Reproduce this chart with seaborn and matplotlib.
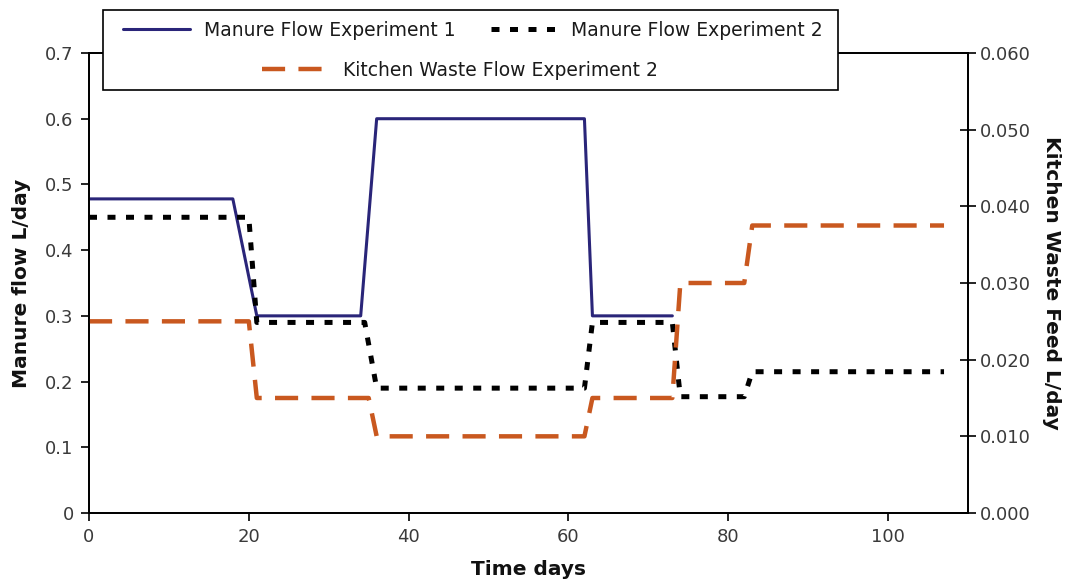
import matplotlib
matplotlib.use("Agg")
import matplotlib.pyplot as plt
from matplotlib.patches import Rectangle
import seaborn as sns

# Manure flow, experiment 1 (L/day) against time (days)
exp1_days = [0, 18, 21, 34, 36, 62, 63, 73]
exp1_manure = [0.478, 0.478, 0.30, 0.30, 0.60, 0.60, 0.30, 0.30]

# Manure flow, experiment 2 (L/day)
exp2_days = [0, 20, 21, 34.5, 36, 62, 63, 73, 74, 82, 83, 107]
exp2_manure = [0.45, 0.45, 0.29, 0.29, 0.19, 0.19, 0.29, 0.29, 0.177, 0.177, 0.215, 0.215]

# Kitchen waste feed, experiment 2 (L/day)
kw_days = [0, 20, 21, 35, 36, 62, 63, 73, 74, 82, 83, 107]
kw_feed = [0.025, 0.025, 0.015, 0.015, 0.010, 0.010, 0.015, 0.015, 0.030, 0.030, 0.0375, 0.0375]

series_labels = ["Manure Flow Experiment 1", "Manure Flow Experiment 2",
                 "Kitchen Waste Flow Experiment 2"]

x_ticks = [0, 20, 40, 60, 80, 100]
left_ticks = [0, 0.1, 0.2, 0.3, 0.4, 0.5, 0.6, 0.7]
left_tick_labels = ["0", "0.1", "0.2", "0.3", "0.4", "0.5", "0.6", "0.7"]
right_ticks = [0.0, 0.01, 0.02, 0.03, 0.04, 0.05, 0.06]
right_tick_labels = ["0.000", "0.010", "0.020", "0.030", "0.040", "0.050", "0.060"]

BLUE = "#2a2579"
BLACK = "#000000"
ORANGE = "#c9581f"
TICK_GREY = "#3a3a3a"

sns.set_style("ticks")
plt.rcParams["font.family"] = ["DejaVu Sans"]

fig = plt.figure(figsize=(10.69, 5.84), dpi=100)
ax = fig.add_axes([89 / 1069, 1 - 513 / 584, 879 / 1069, 460 / 584])
ax2 = ax.twinx()

sns.lineplot(x=exp1_days, y=exp1_manure, ax=ax, color=BLUE, linewidth=2.2,
             sort=False, estimator=None)
sns.lineplot(x=exp2_days, y=exp2_manure, ax=ax, color=BLACK, linewidth=3.6,
             sort=False, estimator=None)
sns.lineplot(x=kw_days, y=kw_feed, ax=ax2, color=ORANGE, linewidth=3.2,
             sort=False, estimator=None)

h_blue = ax.lines[0]
h_black = ax.lines[1]
h_orange = ax2.lines[0]
h_black.set_dashes((1.6, 2.1))
h_black.set_dash_capstyle("butt")
h_orange.set_dashes((5.2, 3.0))
h_orange.set_dash_capstyle("butt")

ax.set_xlim(0, 110)
ax.set_ylim(0, 0.7)
ax2.set_ylim(0, 0.06)
ax.set_xticks(x_ticks)
ax.set_yticks(left_ticks)
ax.set_yticklabels(left_tick_labels)
ax2.set_yticks(right_ticks)
ax2.set_yticklabels(right_tick_labels)

for a in (ax, ax2):
    for sp in a.spines.values():
        sp.set_color("black")
        sp.set_linewidth(1.3)

ax.tick_params(axis="both", direction="out", length=6, width=1.2, color="black",
               labelsize=13, labelcolor=TICK_GREY, pad=5)
ax2.tick_params(axis="y", direction="inout", length=11, width=1.2, color="black",
                labelsize=13, labelcolor=TICK_GREY, pad=3)

ax.set_xlabel("Time days", fontsize=14.5, fontweight="bold", color="#111111", labelpad=10)
ax.set_ylabel("Manure flow L/day", fontsize=14.5, fontweight="bold", color="#111111",
              labelpad=10)
ax2.set_ylabel("Kitchen Waste Feed L/day", fontsize=14.5, fontweight="bold",
               color="#111111", rotation=270, va="bottom", labelpad=8)

# legend frame spanning the top edge of the plot, with two rows of entries
box = Rectangle((103 / 1069, 1 - 90 / 584), 735 / 1069, 80 / 584,
                transform=fig.transFigure, facecolor="white", edgecolor="black",
                linewidth=1.2, zorder=4)
fig.add_artist(box)

leg_kw = dict(loc="center", frameon=False, fontsize=13.5, handlelength=3.6,
              handletextpad=0.7, borderpad=0, borderaxespad=0, labelcolor="#1a1a1a")
leg1 = fig.legend([h_blue, h_black], series_labels[:2], ncol=2, columnspacing=1.9,
                  bbox_to_anchor=(473 / 1069, 1 - 30 / 584), **leg_kw)
leg2 = fig.legend([h_orange], series_labels[2:],
                  bbox_to_anchor=(460 / 1069, 1 - 70 / 584), **leg_kw)
leg1.set_zorder(6)
leg2.set_zorder(6)

fig.savefig("out.png", dpi=100)
